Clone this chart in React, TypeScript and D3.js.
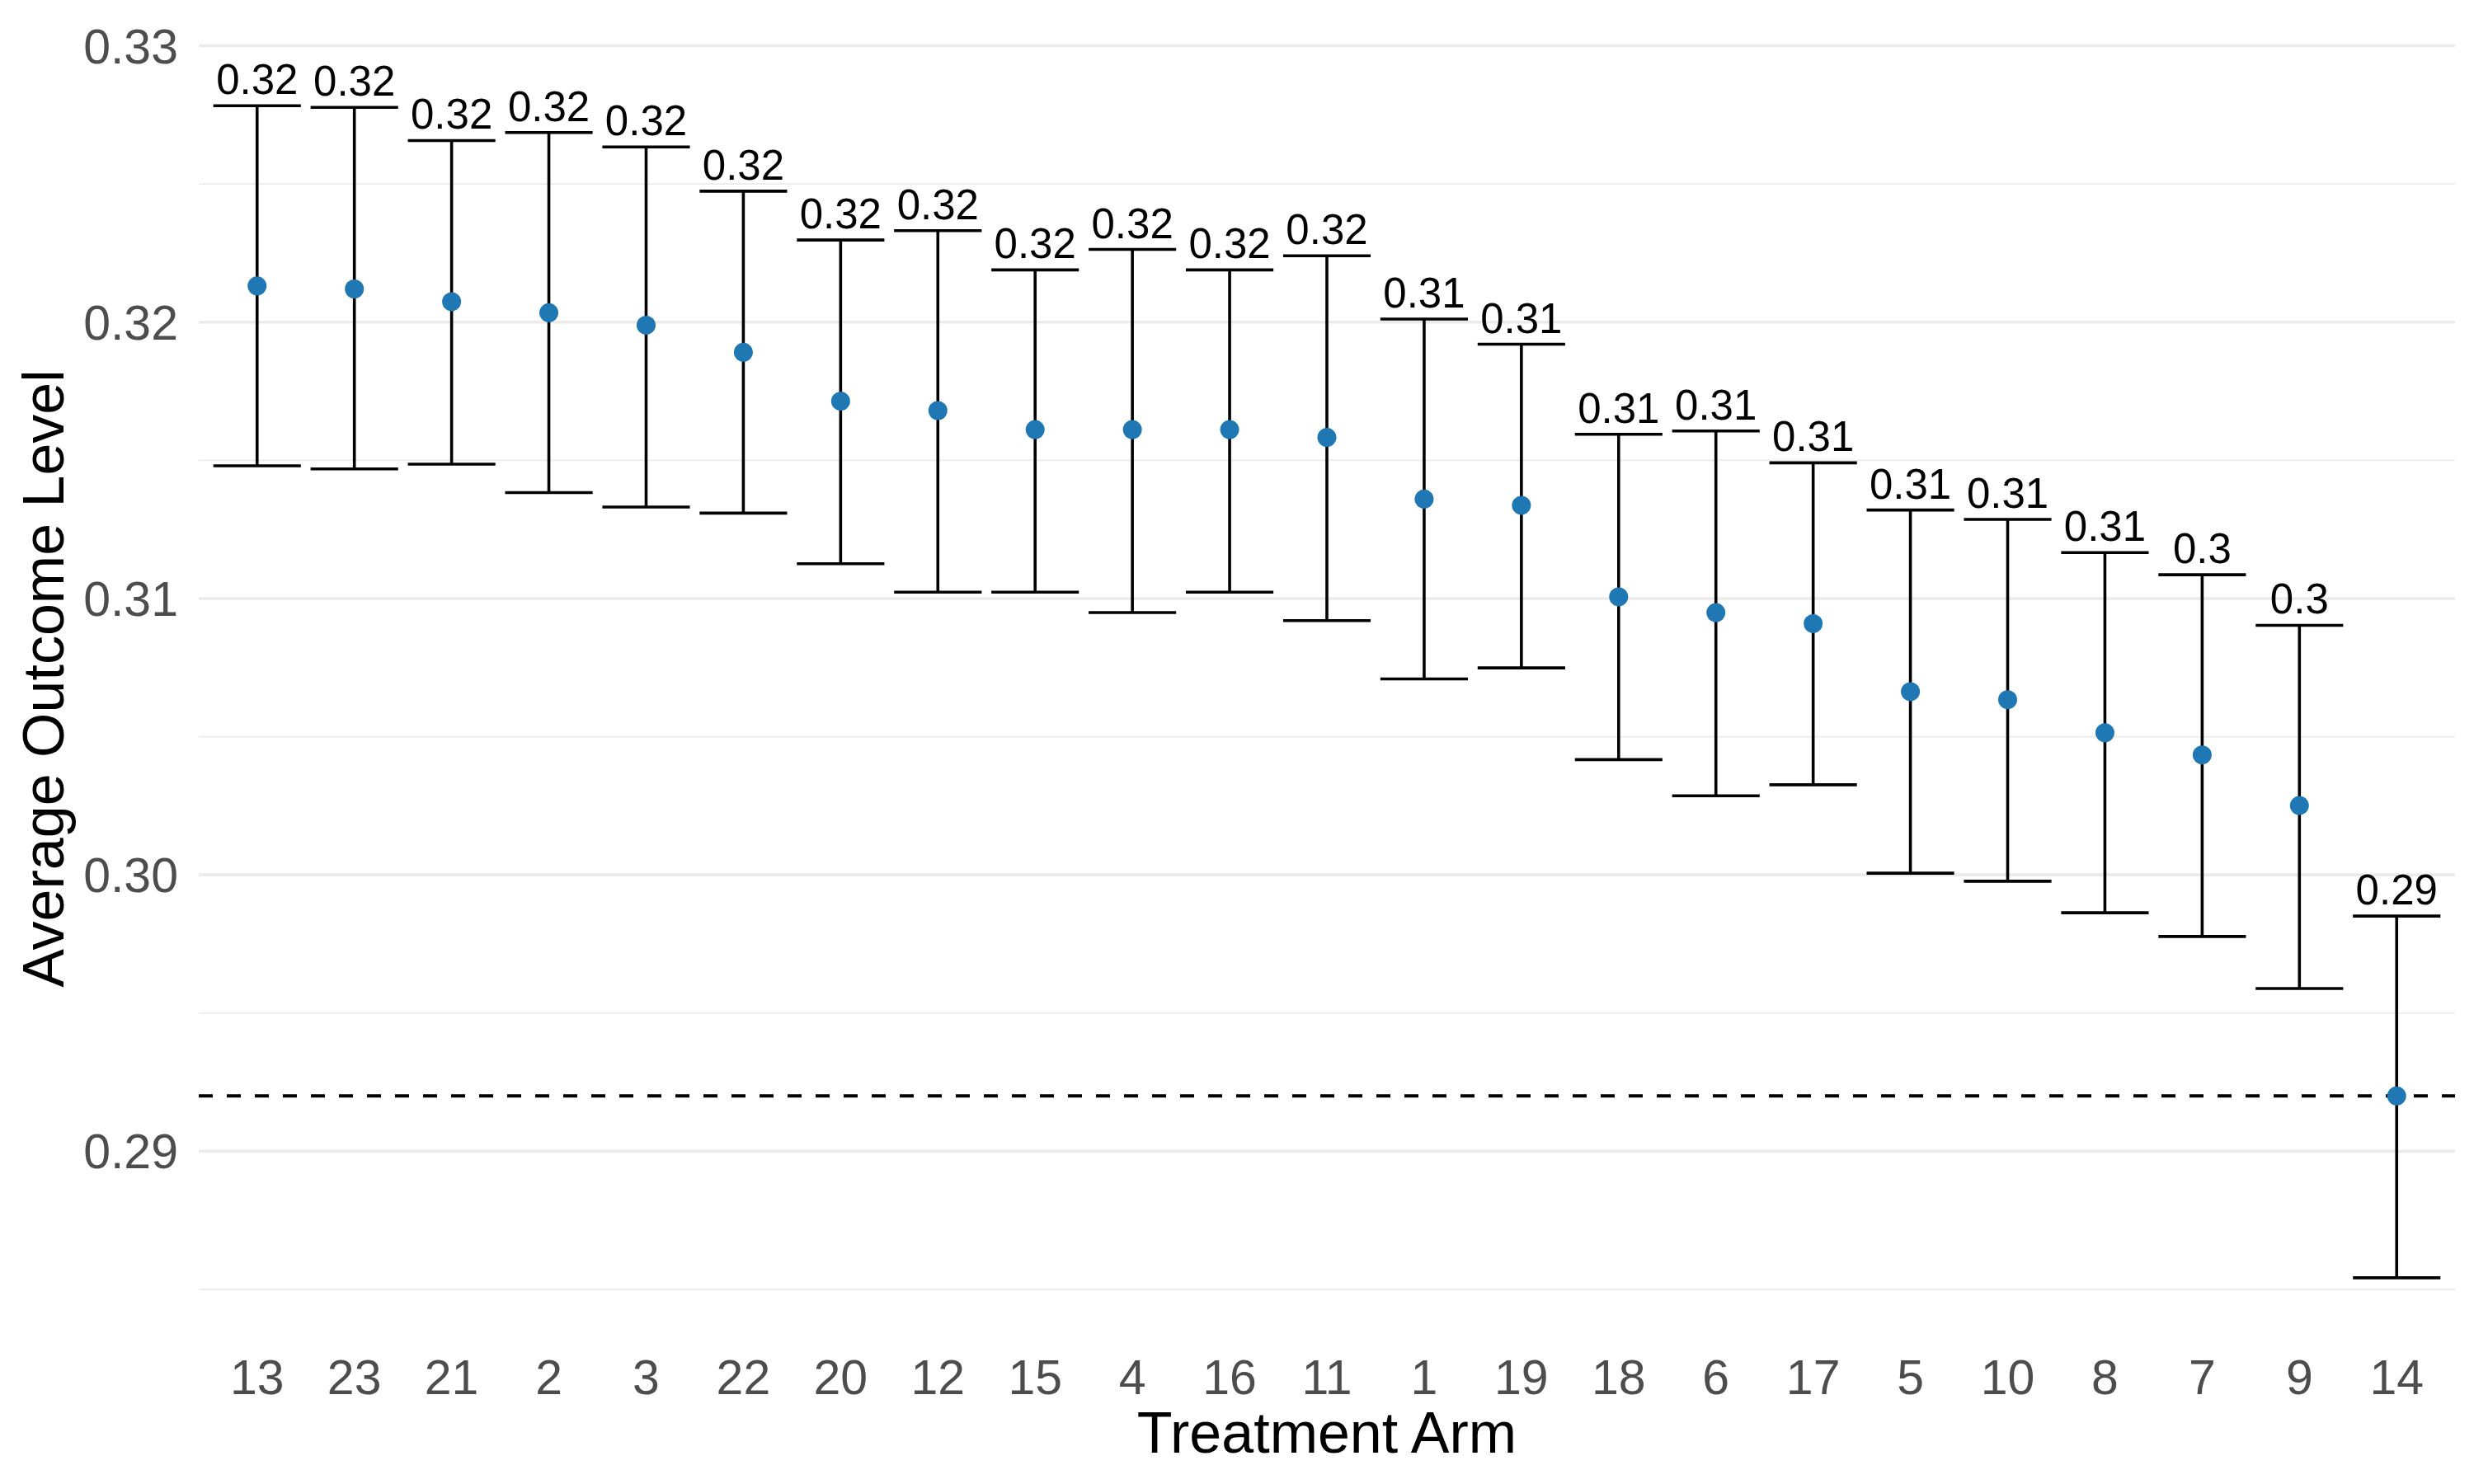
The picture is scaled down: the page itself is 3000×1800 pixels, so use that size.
import React from "react";
import * as d3 from "d3";

const arms: string[] = ["13","23","21","2","3","22","20","12","15","4","16","11","1","19","18","6","17","5","10","8","7","9","14"];
const means: number[] = [0.32131,0.3212,0.32074,0.32034,0.31989,0.31891,0.31714,0.3168,0.31611,0.31611,0.31611,0.31583,0.3136,0.31337,0.31006,0.30949,0.30909,0.30663,0.30634,0.30514,0.30434,0.30251,0.292];
const uppers: number[] = [0.32783,0.32777,0.32657,0.32686,0.32634,0.32474,0.32297,0.32331,0.32189,0.32263,0.32189,0.3224,0.32011,0.3192,0.31594,0.31606,0.31491,0.3132,0.31286,0.31166,0.31086,0.30903,0.29851];
const lowers: number[] = [0.3148,0.31469,0.31486,0.31383,0.31331,0.31309,0.31126,0.31023,0.31023,0.30949,0.31023,0.3092,0.30709,0.30749,0.30417,0.30286,0.30326,0.30006,0.29977,0.29863,0.29777,0.29589,0.28542];
const referenceLevel = 0.292;
const majorTicks: number[] = [0.29, 0.3, 0.31, 0.32, 0.33];
const minorTicks: number[] = [0.285, 0.295, 0.305, 0.315, 0.325];
const tickLabels: string[] = ["0.29", "0.30", "0.31", "0.32", "0.33"];

const W = 3000, H = 1800;
const panelLeft = 241, panelRight = 2977;
const FONT = "'Liberation Sans', Arial, sans-serif";

export default function App() {
  const x = d3.scaleBand<string>().domain(arms).range([panelLeft, panelRight]).paddingOuter(0.1).paddingInner(0);
  // point positions: discrete expansion of 0.6 units each side
  const unit = (panelRight - panelLeft) / (arms.length - 1 + 1.2);
  const cx = (i: number) => panelLeft + unit * (0.6 + i);
  const y = d3.scaleLinear().domain([0.285, 0.33]).range([1564, 55.5]);
  const capHalf = unit * 0.45;
  const fmt = (v: number) => String(Math.round(v * 100) / 100);
  void x;

  return (
    <svg width={W} height={H} style={{ position: "absolute", left: 0, top: 0, background: "#fff" }} fontFamily={FONT}>
      <rect x={0} y={0} width={W} height={H} fill="#fff" />
      {minorTicks.map((t) => (
        <line key={"mn" + t} x1={panelLeft} x2={panelRight} y1={y(t)} y2={y(t)} stroke="#EBEBEB" strokeWidth={1.8} />
      ))}
      {majorTicks.map((t) => (
        <line key={"mj" + t} x1={panelLeft} x2={panelRight} y1={y(t)} y2={y(t)} stroke="#EBEBEB" strokeWidth={3.6} />
      ))}
      <line x1={panelLeft} x2={panelRight} y1={y(referenceLevel)} y2={y(referenceLevel)} stroke="#000" strokeWidth={4} strokeDasharray="17,17" />
      {arms.map((a, i) => (
        <g key={a}>
          <line x1={cx(i)} x2={cx(i)} y1={y(uppers[i])} y2={y(lowers[i])} stroke="#000" strokeWidth={3.6} />
          <line x1={cx(i) - capHalf} x2={cx(i) + capHalf} y1={y(uppers[i])} y2={y(uppers[i])} stroke="#000" strokeWidth={3.6} />
          <line x1={cx(i) - capHalf} x2={cx(i) + capHalf} y1={y(lowers[i])} y2={y(lowers[i])} stroke="#000" strokeWidth={3.6} />
          <circle cx={cx(i)} cy={y(means[i])} r={11.5} fill="#1F77B4" />
          <text x={cx(i)} y={y(uppers[i]) - 14} textAnchor="middle" fontSize={51} fill="#000">{fmt(means[i])}</text>
          <text x={cx(i)} y={1691} textAnchor="middle" fontSize={59} fill="#4D4D4D">{a}</text>
        </g>
      ))}
      {majorTicks.map((t, i) => (
        <text key={"yl" + t} x={216} y={y(t) + 21} textAnchor="end" fontSize={59} fill="#4D4D4D">{tickLabels[i]}</text>
      ))}
      <text x={(panelLeft + panelRight) / 2} y={1762} textAnchor="middle" fontSize={70} fill="#000">Treatment Arm</text>
      <text transform={`translate(77,823) rotate(-90)`} textAnchor="middle" fontSize={70} fill="#000">Average Outcome Level</text>
    </svg>
  );
}
